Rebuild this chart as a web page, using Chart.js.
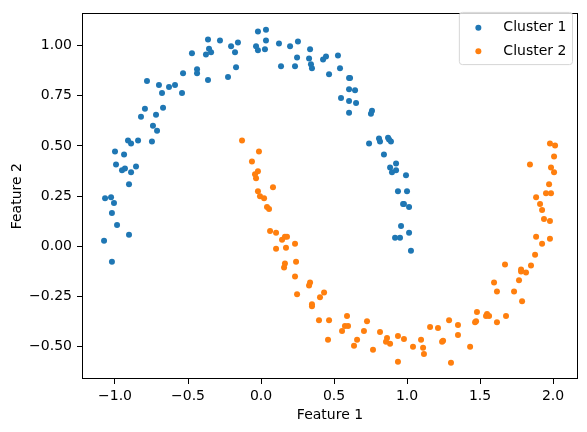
<!DOCTYPE html>
<html><head><meta charset="utf-8">
<script src="https://cdn.jsdelivr.net/npm/chart.js@4"></script>
<style>html,body{margin:0;padding:0;background:#fff}#wrap{width:587px;height:432px}</style>
</head><body><div id="wrap"><canvas id="c" width="587" height="432"></canvas></div>
<script>
const cluster1X = [-0.363,-0.356,-0.342,-0.377,-0.473,-0.438,-0.438,-0.534,-0.363,-0.781,
-0.699,-0.630,-0.589,-0.678,-0.541,-0.795,-0.671,-0.822,-0.719,-0.740,
-0.712,-0.911,-0.890,-0.842,-0.747,-1.000,-0.938,-0.993,-0.952,-0.932,
-0.856,-0.890,-0.904,-1.068,-1.027,-1.007,-1.021,-0.986,-0.904,-1.075,
-1.021,-0.021,0.034,-0.281,-0.205,-0.158,-0.178,-0.034,-0.021,0.034,
0.027,0.123,0.199,0.253,0.336,0.247,0.329,0.342,0.349,0.137,
0.233,0.425,0.445,0.466,-0.171,-0.226,0.527,0.541,0.603,0.610,
0.603,0.644,0.548,0.603,0.651,0.603,0.760,0.753,0.740,0.808,
0.815,0.870,0.890,0.877,0.842,0.925,0.884,0.897,0.925,0.993,
0.938,1.000,0.973,0.979,1.014,0.959,1.014,0.918,0.952,1.027];
const cluster1Y = [1.030,0.984,0.966,0.956,0.961,0.882,0.862,0.862,0.828,0.823,
0.803,0.793,0.803,0.764,0.764,0.685,0.690,0.645,0.655,0.601,
0.576,0.527,0.512,0.527,0.522,0.472,0.458,0.408,0.379,0.388,
0.398,0.369,0.309,0.240,0.245,0.216,0.166,0.107,0.058,0.028,
-0.076,1.070,1.079,1.025,0.996,1.015,0.966,0.996,0.976,1.025,
0.981,1.010,0.996,1.020,0.981,0.941,0.936,0.907,0.887,0.897,
0.897,0.931,0.946,0.857,0.892,0.843,0.951,0.887,0.838,0.838,
0.783,0.778,0.739,0.724,0.714,0.665,0.675,0.660,0.512,0.537,
0.522,0.541,0.522,0.532,0.458,0.413,0.393,0.369,0.379,0.354,
0.275,0.275,0.211,0.211,0.196,0.102,0.068,0.043,0.043,-0.021];
const cluster2X = [-0.130,-0.014,-0.062,-0.021,-0.041,-0.034,0.082,-0.021,-0.007,0.021,
0.041,0.055,0.062,0.103,0.164,0.178,0.144,0.233,0.103,0.171,
0.240,0.164,0.158,0.233,0.336,0.329,0.247,0.432,0.404,0.349,
0.349,0.397,0.466,0.459,0.589,0.575,0.596,0.555,0.726,0.705,
0.658,0.637,0.767,0.815,0.863,0.856,0.884,0.938,0.979,0.938,
1.041,1.096,1.110,1.116,1.158,1.212,1.877,1.671,1.849,1.781,
1.781,1.815,1.767,1.596,1.616,1.733,1.788,1.479,1.548,1.541,
1.562,1.678,1.473,1.466,1.616,1.288,1.349,1.349,1.247,1.240,
1.432,1.301,1.979,2.014,2.007,1.842,1.986,2.007,1.973,1.952,
1.986,1.884,1.911,1.925,1.938,1.979,1.884,1.979,1.925];
const cluster2Y = [0.527,0.472,0.423,0.374,0.359,0.339,0.295,0.275,0.250,0.240,
0.196,0.186,0.077,0.068,0.048,0.048,0.033,0.013,-0.011,-0.006,
-0.076,-0.085,-0.105,-0.150,-0.179,-0.194,-0.238,-0.229,-0.253,-0.288,
-0.298,-0.367,-0.367,-0.465,-0.347,-0.396,-0.396,-0.421,-0.372,-0.421,
-0.465,-0.495,-0.515,-0.426,-0.456,-0.475,-0.485,-0.446,-0.461,-0.574,
-0.500,-0.465,-0.505,-0.535,-0.401,-0.406,-0.041,-0.090,-0.095,-0.115,
-0.125,-0.130,-0.169,-0.179,-0.224,-0.224,-0.273,-0.327,-0.337,-0.347,
-0.347,-0.347,-0.372,-0.377,-0.377,-0.367,-0.391,-0.441,-0.470,-0.475,
-0.500,-0.579,0.512,0.502,0.448,0.408,0.393,0.369,0.309,0.265,
0.265,0.245,0.211,0.181,0.137,0.127,0.048,0.038,0.013];
const seriesNames = ['Cluster 1', 'Cluster 2'];
const xTicks = [-1.0, -0.5, 0.0, 0.5, 1.0, 1.5, 2.0];
const yTicks = [-0.50, -0.25, 0.00, 0.25, 0.50, 0.75, 1.00];
const xTitle = 'Feature 1';
const yTitle = 'Feature 2';

const COLORS = ['#1f77b4', '#ff7f0e'];
const FONT = 'DejaVu Sans';
const fmt = (v, d) => (v < 0 ? '\u2212' : '') + Math.abs(v).toFixed(d);
const pts = (xs, ys) => xs.map((x, i) => ({x: x, y: ys[i]}));

const framePlugin = {
  id: 'frame',
  afterDatasetsDraw(chart) {
    const a = chart.chartArea, ctx = chart.ctx;
    ctx.save();
    ctx.strokeStyle = '#000';
    ctx.lineWidth = 1;
    ctx.strokeRect(Math.round(a.left) + 0.5, Math.round(a.top) + 0.5,
      Math.round(a.right - a.left) - 1, Math.round(a.bottom - a.top) - 1);
    ctx.restore();
  }
};

const legendPlugin = {
  id: 'mplLegend',
  afterDraw(chart) {
    const ctx = chart.ctx;
    const a = chart.chartArea;
    const fs = 14;
    ctx.save();
    ctx.font = fs + 'px "' + FONT + '"';
    const ds = chart.data.datasets;
    let tw = 0;
    ds.forEach(d => { tw = Math.max(tw, ctx.measureText(d.label).width); });
    const pad = 5.6, handle = 27.8, gap = 11.1, rowH = 16.5, spacing = 7;
    const w = pad + handle + gap + tw + pad;
    const h = pad * 2 + rowH * ds.length + spacing * (ds.length - 1);
    const right = a.right - 6;
    const left = right - w;
    const top = a.top + 0.5;
    ctx.beginPath();
    if (ctx.roundRect) ctx.roundRect(left + 0.5, top - 1.5, w, h + 1, 3); else ctx.rect(left + 0.5, top - 1.5, w, h + 1);
    ctx.fillStyle = 'rgba(255,255,255,0.8)';
    ctx.fill();
    ctx.strokeStyle = '#d6d6d6';
    ctx.lineWidth = 1;
    ctx.stroke();
    ds.forEach((d, i) => {
      const cy = top + pad + rowH / 2 + i * (rowH + spacing);
      ctx.beginPath();
      ctx.arc(left + pad + handle / 2, cy, 3, 0, Math.PI * 2);
      ctx.fillStyle = d.backgroundColor;
      ctx.fill();
      ctx.fillStyle = '#000';
      ctx.textBaseline = 'middle';
      ctx.textAlign = 'left';
      ctx.fillText(d.label, left + pad + handle + gap, cy);
    });
    ctx.restore();
  }
};

new Chart(document.getElementById('c'), {
  type: 'scatter',
  data: {
    datasets: [
      {label: seriesNames[0], data: pts(cluster1X, cluster1Y), backgroundColor: COLORS[0], borderWidth: 0, pointRadius: 3, pointHoverRadius: 3},
      {label: seriesNames[1], data: pts(cluster2X, cluster2Y), backgroundColor: COLORS[1], borderWidth: 0, pointRadius: 3, pointHoverRadius: 3}
    ]
  },
  options: {
    responsive: false,
    animation: false,
    devicePixelRatio: 1,
    layout: {padding: {top: 10, right: 9, left: 0, bottom: 0}},
    plugins: {legend: {display: false}, tooltip: {enabled: false}},
    scales: {
      x: {
        type: 'linear', min: -1.226, max: 2.171,
        afterBuildTicks: s => { s.ticks = xTicks.map(v => ({value: v})); },
        afterFit: s => { s.height = 53; },
        grid: {display: true, drawOnChartArea: false, drawTicks: true, tickLength: 5, tickColor: '#000', tickWidth: 1},
        border: {display: false},
        ticks: {color: '#000', font: {family: FONT, size: 14}, padding: 4, maxRotation: 0, autoSkip: false, callback: v => fmt(v, 1)},
        title: {display: true, text: xTitle, color: '#000', font: {family: FONT, size: 14}, padding: {top: 0, bottom: 8}}
      },
      y: {
        type: 'linear', min: -0.660, max: 1.160,
        afterBuildTicks: s => { s.ticks = yTicks.map(v => ({value: v})); },
        afterFit: s => { s.width = 82; },
        grid: {display: true, drawOnChartArea: false, drawTicks: true, tickLength: 5, tickColor: '#000', tickWidth: 1},
        border: {display: false},
        ticks: {color: '#000', font: {family: FONT, size: 14}, padding: 5, autoSkip: false, callback: v => fmt(v, 2)},
        title: {display: true, text: yTitle, color: '#000', font: {family: FONT, size: 14}, padding: {top: 9, bottom: 0}}
      }
    }
  },
  plugins: [framePlugin, legendPlugin]
});
</script>
</body></html>
